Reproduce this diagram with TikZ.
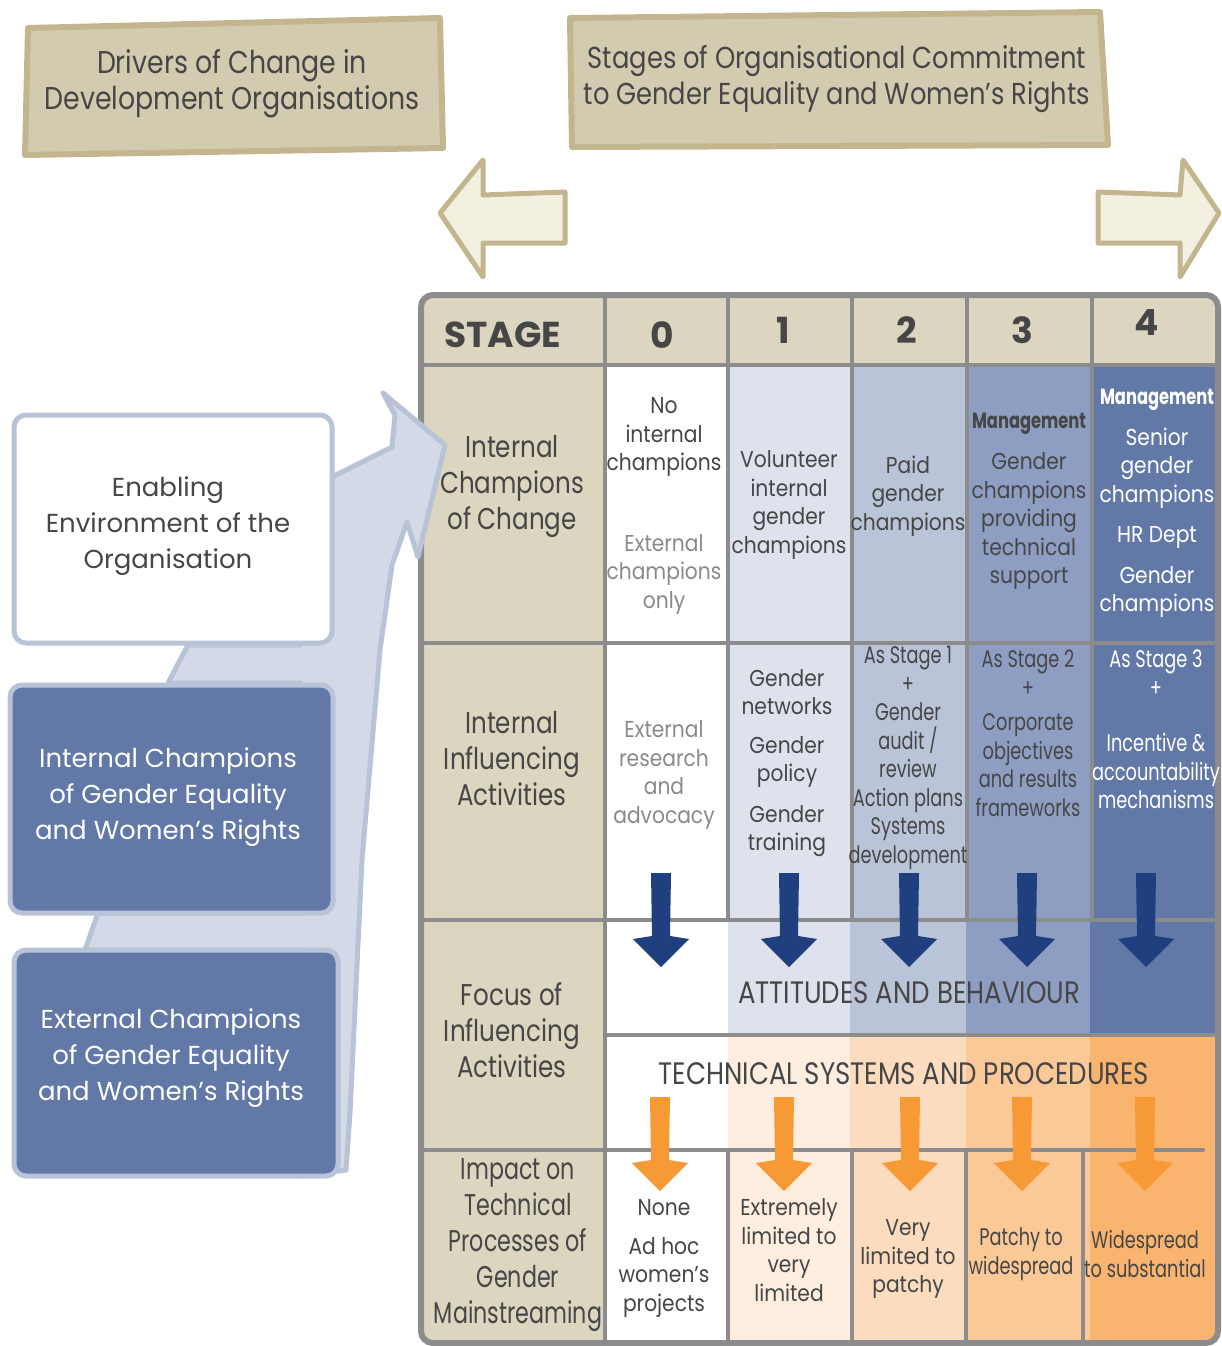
\documentclass[tikz,border=0pt]{standalone}
\usepackage{fontspec}
\setmainfont{Poppins}
\newfontfamily\titlefont{Poppins}[FakeStretch=0.85]
\newfontfamily\rowfont{Poppins}[FakeStretch=0.82]
\newfontfamily\cellfont{Poppins}[FakeStretch=0.88]
\newfontfamily\tightfont{Poppins}[FakeStretch=0.74]
\newfontfamily\capsfont{Poppins}[FakeStretch=0.84]
\begin{document}
\begin{tikzpicture}[x=1pt,y=-1pt,
  titlebox/.style={fill=kTan,draw=kTanDark,line width=6pt,line join=round},
  creamarrow/.style={fill=kCream,draw=kTanDark,line width=5pt,line join=round},
  sidebox/.style={draw=kBandDark,line width=5pt,rounded corners=12pt},
  gridline/.style={kFrame,line width=4pt,line cap=round},
  titletext/.style={text=kText,align=center,font=\titlefont\fontsize{31.5}{36}\selectfont},
  sidetext/.style={align=center,font=\fontsize{26}{36}\selectfont},
  rowtext/.style={text=kText,align=center,font=\rowfont\fontsize{30}{36}\selectfont},
  celltext/.style={text=kText,align=center,inner sep=0pt,font=\cellfont\fontsize{23}{28.5}\selectfont},
  narrowtext/.style={celltext,font=\tightfont\fontsize{24}{28.5}\selectfont},
  boldtext/.style={celltext,font=\tightfont\bfseries\fontsize{22}{28.5}\selectfont},
  capstext/.style={text=kText,inner sep=0pt,font=\capsfont\fontsize{31}{34}\selectfont},
  headtext/.style={text=kText,font=\bfseries\fontsize{36}{40}\selectfont}]
  % colors
  \definecolor{kTan}{HTML}{D3CBB0}
  \definecolor{kTanDark}{HTML}{C3B68F}
  \definecolor{kTanLight}{HTML}{DCD5BF}
  \definecolor{kCream}{HTML}{F3EFE1}
  \definecolor{kFrame}{HTML}{8C8C8C}
  \definecolor{kText}{HTML}{464646}
  \definecolor{kGrey}{HTML}{8A8A8A}
  \definecolor{kBand}{HTML}{D3D9E6}
  \definecolor{kBandDark}{HTML}{B8C3D8}
  \definecolor{kBlueA}{HTML}{DDE2EC}
  \definecolor{kBlueB}{HTML}{B9C4D8}
  \definecolor{kBlueC}{HTML}{8D9EC2}
  \definecolor{kBlueD}{HTML}{6279A8}
  \definecolor{kOrangeA}{HTML}{FDEEE0}
  \definecolor{kOrangeB}{HTML}{FCDCBF}
  \definecolor{kOrangeC}{HTML}{FAC997}
  \definecolor{kOrangeD}{HTML}{F9B46F}
  \definecolor{kNavy}{HTML}{1F3F7F}
  \definecolor{kOrange}{HTML}{F79A36}
  \useasboundingbox (0,0) rectangle (1221,1346);
  % titles
  \draw[titlebox] (28,28) -- (440,18) -- (443,148) -- (25,155) -- cycle;
  \node[titletext] (drivers) at (232,84) {Drivers of Change in\\Development Organisations};
  \draw[titlebox] (570,18) -- (1100,12) -- (1108,145) -- (572,147) -- cycle;
  \node[titletext,font=\titlefont\fontsize{30.3}{36}\selectfont] (stages) at (837,79) {Stages of Organisational Commitment\\to Gender Equality and Women’s Rights};
  \draw[creamarrow] (565,192) -- (483,195) -- (483,160) -- (440,213) -- (483,277) -- (483,243) -- (565,243) -- cycle;
  \draw[creamarrow] (1098,192) -- (1180,195) -- (1183,160) -- (1219,213) -- (1180,277) -- (1180,243) -- (1098,243) -- cycle;
  % table
  \begin{scope}
    \clip[rounded corners=12pt] (421,295) rectangle (1218,1343);
    \fill[kTanLight] (421,295) rectangle (1218,365);
    \fill[kTanLight] (421,365) rectangle (605,1343);
    \foreach \xa/\xb/\cb/\co in {605/728/white/white, 728/850/kBlueA/kOrangeA, 850/966/kBlueB/kOrangeB,
      966/1090/kBlueC/kOrangeC, 1090/1218/kBlueD/kOrangeD}{
      \fill[\cb] (\xa,365) rectangle (\xb,1035);
      \fill[\co] (\xa,1035) rectangle (\xb,1343);
    }
  \end{scope}
  \draw[gridline] (421,365) -- (1218,365);
  \draw[gridline] (421,643) -- (1218,643);
  \draw[gridline] (421,920) -- (1218,920);
  \draw[gridline] (605,1035) -- (1218,1035);
  \draw[gridline] (421,1150) -- (1203,1150);
  \draw[gridline] (605,295) -- (605,1343);
  \foreach \x in {728,852,967,1092}
    \draw[gridline] (\x,295) -- (\x,920);
  \foreach \x in {728,852,966,1083}
    \draw[gridline] (\x,1150) -- (\x,1343);
  \draw[kFrame,line width=6pt,rounded corners=12pt] (421,295) rectangle (1218,1343);
  % left side
  \draw[fill=kBand,draw=kBandDark,line width=5pt,line join=round]
    (330,478) -- (392,447) -- (395,415) -- (383,393) -- (445,445) -- (418,557) -- (407,522)
    -- (392,565) -- (380,650) -- (362,860) -- (350,1113) -- (346,1170) -- (300,1176)
    -- (300,950) -- (85,950) -- (98,913) -- (300,913) -- (300,683) -- (168,683)
    -- (188,645) -- (300,645) -- cycle;
  \draw[sidebox,fill=white] (14,415) rectangle (332,643);
  \draw[sidebox,fill=kBlueD] (10,685) rectangle (333,913);
  \draw[sidebox,fill=kBlueD] (14,950) rectangle (338,1176);
  \node[sidetext,text=kText] (enabling) at (168,526) {Enabling\\Environment of the\\Organisation};
  \node[sidetext,text=white] (internal) at (168,797) {Internal Champions\\of Gender Equality\\and Women’s Rights};
  \node[sidetext,text=white] (external) at (171,1058) {External Champions\\of Gender Equality\\and Women’s Rights};
  % arrows
  \foreach \x in {661,789,909,1027,1146}
    \fill[kNavy] (\x-10,873) -- (\x+10,873) -- (\x+9,936) -- (\x+28,939) -- (\x,967) -- (\x-28,939) -- (\x-9,936) -- cycle;
  \foreach \x in {660,784,910,1022,1145}
    \fill[kOrange] (\x-10,1097) -- (\x+10,1097) -- (\x+9,1160) -- (\x+28,1163) -- (\x,1191) -- (\x-28,1163) -- (\x-9,1160) -- cycle;
  % header
  \node[headtext] (stagehd) at (503,335) {STAGE};
  \foreach \n/\x/\y in {0/662/335, 1/783/330, 2/907/330, 3/1022/330, 4/1147/323}
    \node[headtext] (hd\n) at (\x,\y) {\n};
  % row labels
  \node[rowtext] (champlbl) at (512,486) {Internal\\Champions\\of Change};
  \node[rowtext] (inflbl) at (512,759) {Internal\\Influencing\\Activities};
  \node[rowtext] (focuslbl) at (512,1030) {Focus of\\Influencing\\Activities};
  \node[rowtext,font=\tightfont\fontsize{30}{36}\selectfont] (impactlbl) at (518,1245) {Impact on\\Technical\\Processes of\\Gender\\Mainstreaming};
  % champions row
  \node[celltext] (noint) at (664,437) {No\\internal\\champions};
  \node[celltext,text=kGrey] (extonly) at (664,574) {External\\champions\\only};
  \node[celltext] (volunteer) at (789,505) {Volunteer\\internal\\gender\\champions};
  \node[celltext] (paid) at (908,496) {Paid\\gender\\champions};
  \node[boldtext] (mgmtc) at (1029,424) {Management};
  \node[celltext] (provide) at (1029,521) {Gender\\champions\\providing\\technical\\support};
  \node[boldtext,text=white] (mgmtd) at (1157,400) {Management};
  \node[celltext,text=white] (senior) at (1157,468) {Senior\\gender\\champions};
  \node[celltext,text=white] (hrdept) at (1157,537) {HR Dept};
  \node[celltext,text=white] (genchamp) at (1157,592) {Gender\\champions};
  % influencing row
  \node[celltext,text=kGrey] (research) at (664,775) {External\\research\\and\\advocacy};
  \node[celltext] (networks) at (787,692) {Gender\\networks};
  \node[celltext] (policy) at (787,762) {Gender\\policy};
  \node[celltext] (training) at (787,831) {Gender\\training};
  \node[narrowtext] (asone) at (908,758) {As Stage 1\\+\\Gender\\audit /\\review\\Action plans\\Systems\\development};
  \node[narrowtext] (astwo) at (1028,673) {As Stage 2\\+};
  \node[narrowtext] (corporate) at (1028,765) {Corporate\\objectives\\and results\\frameworks};
  \node[narrowtext,text=white] (asthree) at (1156,673) {As Stage 3\\+};
  \node[narrowtext,text=white] (incentive) at (1156,771) {Incentive \&\\accountability\\mechanisms};
  % focus row
  \node[capstext] (attitudes) at (909,993) {ATTITUDES AND BEHAVIOUR};
  \node[capstext] (technical) at (904,1074) {TECHNICAL SYSTEMS AND PROCEDURES};
  % impact row
  \node[celltext] (none) at (664,1208) {None};
  \node[celltext] (adhoc) at (664,1277) {Ad hoc\\women’s\\projects};
  \node[celltext] (extreme) at (789,1250) {Extremely\\limited to\\very\\limited};
  \node[celltext] (verylim) at (908,1259) {Very\\limited to\\patchy};
  \node[narrowtext] (patchy) at (1021,1254) {Patchy to\\widespread};
  \node[narrowtext] (widespread) at (1145,1254) {Widespread\\to substantial};
\end{tikzpicture}
\end{document}
